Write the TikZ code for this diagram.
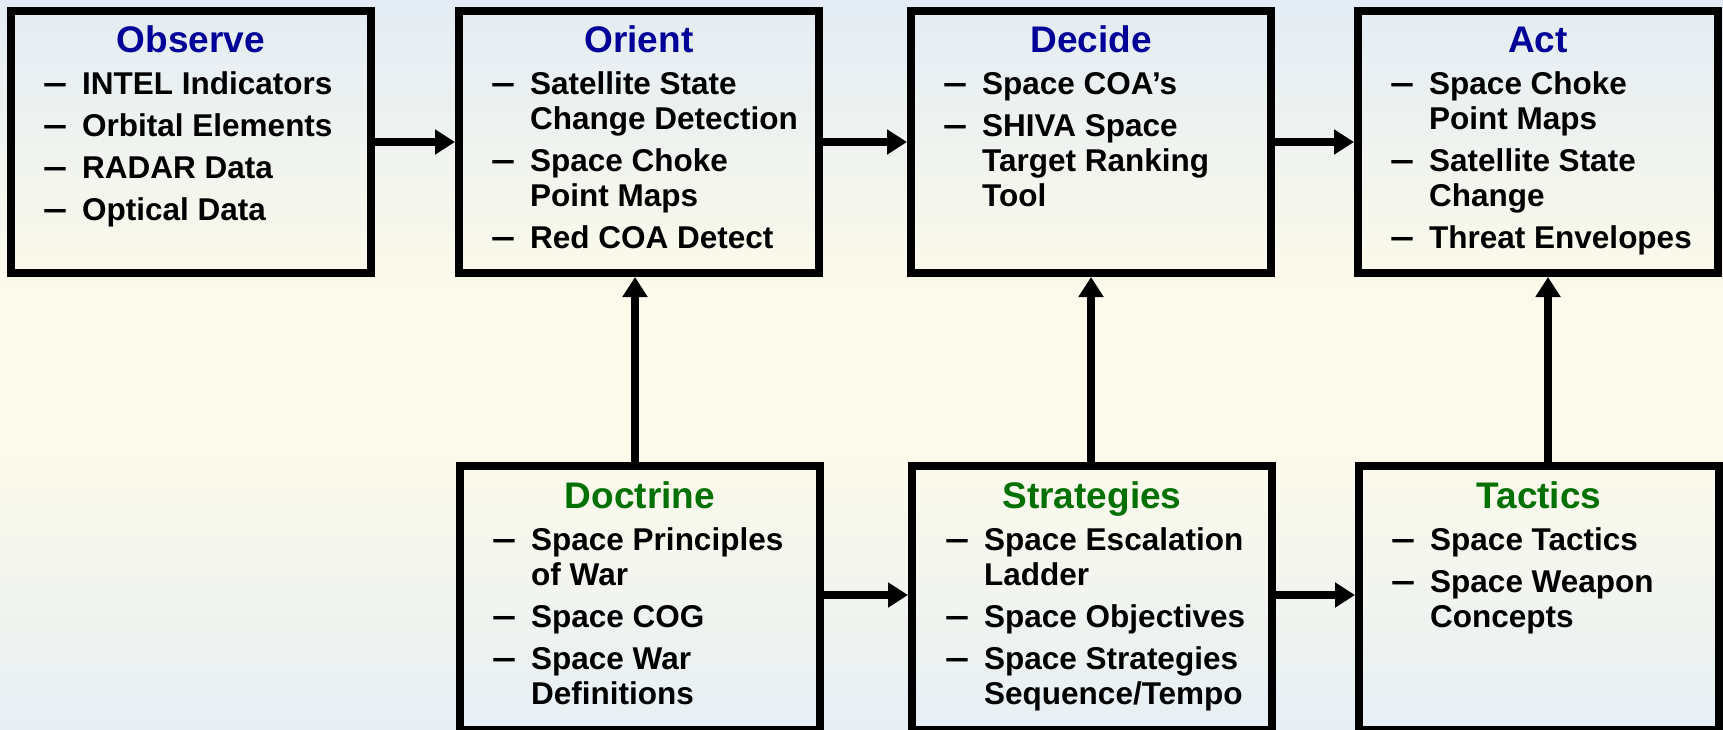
\documentclass[tikz,border=0pt]{standalone}
\usepackage{fontspec}
\setmainfont{Liberation Sans}
\usetikzlibrary{arrows.meta}
\definecolor{bgtop}{RGB}{227,236,244}
\definecolor{bgmid}{RGB}{252,250,234}
\definecolor{bgbot}{RGB}{231,239,244}
\definecolor{oodablue}{RGB}{0,0,153}
\definecolor{oodagreen}{RGB}{0,112,0}
\newcommand\dsh{\llap{\raisebox{0pt}{\scalebox{1.37}[1.1]{–}}\hspace{15pt}}}
\newcommand\bul[1]{\hbox{\dsh#1}}
\newcommand\cont[1]{\hbox{#1}}
\newcommand\gapp{\vskip7pt}
\newcommand\lst[1]{\vtop{\lineskiplimit=-100pt\relax #1}}
\tikzset{
  box/.style={draw=black, line width=8pt, minimum width=360pt, minimum height=262pt, inner sep=0pt},
  boxlow/.style={box, minimum height=264pt},
  ttl/.style={anchor=base, inner sep=0pt, font=\fontsize{37}{40}\selectfont\bfseries},
  itms/.style={anchor=base west, inner sep=0pt, font=\fontsize{31.5}{35}\selectfont\bfseries},
  arr/.style={line width=8pt, -{Triangle[length=20pt,width=24pt]}},
}
\begin{document}
\begin{tikzpicture}[x=1pt,y=-1pt]
\useasboundingbox (0,0) rectangle (1723,730);
\clip (0,0) rectangle (1723,730);
\shade[top color=bgtop,bottom color=bgmid] (0,0) rectangle (1723,290);
\fill[bgmid] (0,289) rectangle (1723,451);
\shade[top color=bgmid,bottom color=bgbot] (0,450) rectangle (1723,730);

% boxes
\node[box] (obs) at (191,142) {};
\node[box] (ori) at (639,142) {};
\node[box] (dec) at (1091,142) {};
\node[box] (act) at (1538,142) {};
\node[boxlow] (doc) at (640,598) {};
\node[boxlow] (str) at (1092,598) {};
\node[boxlow] (tac) at (1539,598) {};

% titles
\node[ttl, text=oodablue] (obsT) at (191,53) {Observe};
\node[ttl, text=oodablue] (oriT) at (639,53) {Orient};
\node[ttl, text=oodablue] (decT) at (1091,53) {Decide};
\node[ttl, text=oodablue] (actT) at (1538,53) {Act};
\node[ttl, text=oodagreen] (docT) at (640,508) {Doctrine};
\node[ttl, text=oodagreen] (strT) at (1092,508) {Strategies};
\node[ttl, text=oodagreen] (tacT) at (1539,508) {Tactics};

% items
\node[itms] (obsI) at (82,95) {\lst{\bul{INTEL Indicators}\gapp\bul{Orbital Elements}\gapp\bul{RADAR Data}\gapp\bul{Optical Data}}};
\node[itms] (oriI) at (530,95) {\lst{\bul{Satellite State}\cont{Change Detection}\gapp\bul{Space Choke}\cont{Point Maps}\gapp\bul{Red COA Detect}}};
\node[itms] (decI) at (982,95) {\lst{\bul{Space COA’s}\gapp\bul{SHIVA Space}\cont{Target Ranking}\cont{Tool}}};
\node[itms] (actI) at (1429,95) {\lst{\bul{Space Choke}\cont{Point Maps}\gapp\bul{Satellite State}\cont{Change}\gapp\bul{Threat Envelopes}}};
\node[itms] (docI) at (531,550) {\lst{\bul{Space Principles}\cont{of War}\gapp\bul{Space COG}\gapp\bul{Space War}\cont{Definitions}}};
\node[itms] (strI) at (984,550) {\lst{\bul{Space Escalation}\cont{Ladder}\gapp\bul{Space Objectives}\gapp\bul{Space Strategies}\cont{Sequence/Tempo}}};
\node[itms] (tacI) at (1430,550) {\lst{\bul{Space Tactics}\gapp\bul{Space Weapon}\cont{Concepts}}};

% connectors
\draw[arr] (obs.east) -- (ori.west);
\draw[arr] (ori.east) -- (dec.west);
\draw[arr] (dec.east) -- (act.west);
\draw[arr] ([yshift=3pt]doc.east) -- ([yshift=3pt]str.west);
\draw[arr] ([yshift=3pt]str.east) -- ([yshift=3pt]tac.west);
\coordinate (v1) at ([xshift=-4pt]ori.south);
\coordinate (v3) at ([xshift=10pt]act.south);
\draw[arr] (v1 |- doc.north) -- (v1);
\draw[arr] (dec.south |- str.north) -- (dec.south);
\draw[arr] (v3 |- tac.north) -- (v3);
\end{tikzpicture}
\end{document}
